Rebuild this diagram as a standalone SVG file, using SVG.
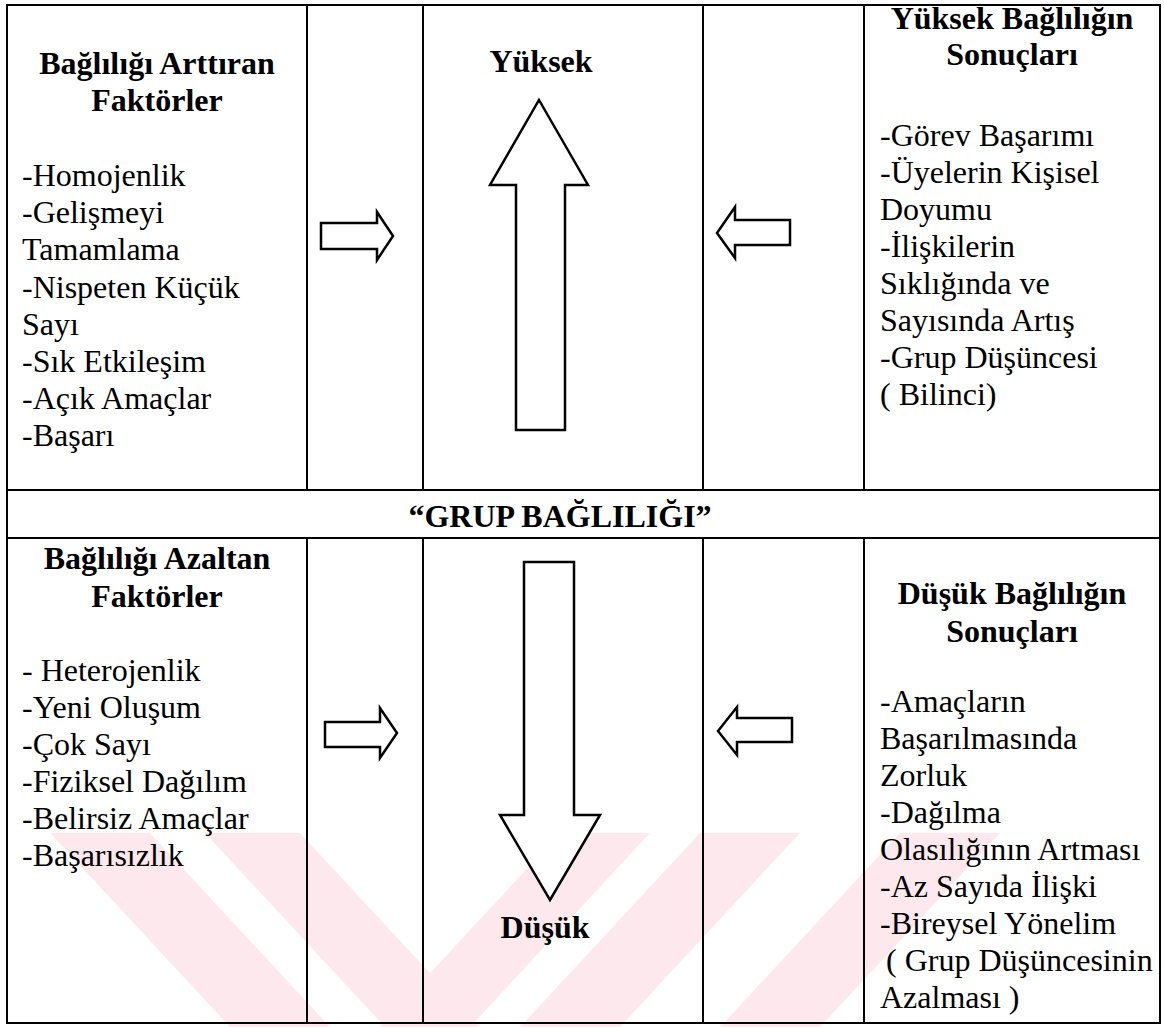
<svg xmlns="http://www.w3.org/2000/svg" width="1165" height="1027" viewBox="0 0 1165 1027">
<style>
.t{font-family:"Liberation Serif","Times New Roman",serif;font-size:32px;fill:#000}
.b{font-weight:bold}
.c{text-anchor:middle}
.ln{stroke:#000;stroke-width:2;fill:none}
.ar{fill:#fff;stroke:#000;stroke-width:2.5;stroke-linejoin:miter}
.wm{fill:#fde9ed}
</style>
<rect x="0" y="0" width="1165" height="1027" fill="#fff"/>
<g id="watermark">
<polygon class="wm" points="50,833 150,833 330,1027 230,1027"/>
<polygon class="wm" points="205,833 300,833 480,1027 385,1027"/>
<polygon class="wm" points="560,833 650,833 470,1027 380,1027"/>
<polygon class="wm" points="700,833 800,833 620,1027 520,1027"/>
<polygon class="wm" points="900,833 1000,833 820,1027 720,1027"/>
</g>
<g id="table">
<rect class="ln" x="7" y="5" width="1153" height="1018"/>
<line class="ln" x1="7" y1="490" x2="1160" y2="490"/>
<line class="ln" x1="7" y1="538" x2="1160" y2="538"/>
<line class="ln" x1="307" y1="5" x2="307" y2="490"/>
<line class="ln" x1="423" y1="5" x2="423" y2="490"/>
<line class="ln" x1="703" y1="5" x2="703" y2="490"/>
<line class="ln" x1="864" y1="5" x2="864" y2="490"/>
<line class="ln" x1="307" y1="538" x2="307" y2="1023"/>
<line class="ln" x1="423" y1="538" x2="423" y2="1023"/>
<line class="ln" x1="703" y1="538" x2="703" y2="1023"/>
<line class="ln" x1="864" y1="538" x2="864" y2="1023"/>
</g>
<g id="artiran">
<text class="t b c" x="157" y="74">Bağlılığı Arttıran</text>
<text class="t b c" x="157" y="111">Faktörler</text>
<text class="t" x="22" y="186">-Homojenlik</text>
<text class="t" x="22" y="223">-Gelişmeyi</text>
<text class="t" x="22" y="260">Tamamlama</text>
<text class="t" x="22" y="298">-Nispeten Küçük</text>
<text class="t" x="22" y="335">Sayı</text>
<text class="t" x="22" y="372">-Sık Etkileşim</text>
<text class="t" x="22" y="409">-Açık Amaçlar</text>
<text class="t" x="22" y="446">-Başarı</text>
</g>
<g id="yuksek">
<text class="t b c" x="541" y="72">Yüksek</text>
</g>
<g id="yuksek-sonuc">
<text class="t b c" x="1012" y="29">Yüksek Bağlılığın</text>
<text class="t b c" x="1012" y="65">Sonuçları</text>
<text class="t" x="880" y="146">-Görev Başarımı</text>
<text class="t" x="880" y="183">-Üyelerin Kişisel</text>
<text class="t" x="880" y="220">Doyumu</text>
<text class="t" x="880" y="257">-İlişkilerin</text>
<text class="t" x="880" y="294">Sıklığında ve</text>
<text class="t" x="880" y="331">Sayısında Artış</text>
<text class="t" x="880" y="368">-Grup Düşüncesi</text>
<text class="t" x="880" y="405">( Bilinci)</text>
</g>
<g id="grup">
<text class="t b c" x="560" y="527">“GRUP BAĞLILIĞI”</text>
</g>
<g id="azaltan">
<text class="t b c" x="157" y="569">Bağlılığı Azaltan</text>
<text class="t b c" x="157" y="607">Faktörler</text>
<text class="t" x="22" y="681">- Heterojenlik</text>
<text class="t" x="22" y="718">-Yeni Oluşum</text>
<text class="t" x="22" y="755">-Çok Sayı</text>
<text class="t" x="22" y="792">-Fiziksel Dağılım</text>
<text class="t" x="22" y="829">-Belirsiz Amaçlar</text>
<text class="t" x="22" y="866">-Başarısızlık</text>
</g>
<g id="dusuk">
<text class="t b c" x="545" y="938">Düşük</text>
</g>
<g id="dusuk-sonuc">
<text class="t b c" x="1012" y="604">Düşük Bağlılığın</text>
<text class="t b c" x="1012" y="642">Sonuçları</text>
<text class="t" x="880" y="712">-Amaçların</text>
<text class="t" x="880" y="749">Başarılmasında</text>
<text class="t" x="880" y="786">Zorluk</text>
<text class="t" x="880" y="823">-Dağılma</text>
<text class="t" x="880" y="860">Olasılığının Artması</text>
<text class="t" x="880" y="897">-Az Sayıda İlişki</text>
<text class="t" x="880" y="934">-Bireysel Yönelim</text>
<text class="t" x="886" y="971">( Grup Düşüncesinin</text>
<text class="t" x="880" y="1008">Azalması )</text>
</g>
<g id="connectors">
<polygon class="ar" points="321,223 377,223 377,212 393,236 377,260 377,249 321,249"/>
<polygon class="ar" points="717,233 735,207 735,220 790,220 790,245 735,245 735,258"/>
<polygon class="ar" points="539,100 588,185 565,185 565,430 516,430 516,185 490,185"/>
<polygon class="ar" points="325,722 380,722 380,708 397,733 380,758 380,747 325,747"/>
<polygon class="ar" points="718,731 737,707 737,718 792,718 792,742 737,742 737,755"/>
<polygon class="ar" points="524,562 574,562 574,815 600,815 550,900 500,815 524,815"/>
</g>
</svg>
